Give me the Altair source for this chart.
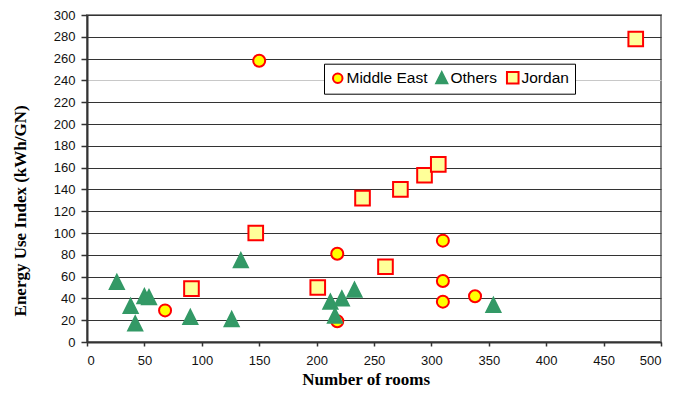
import altair as alt
import pandas as pd

series_names = ["Middle East", "Others", "Jordan"]

me_x = [150, 68, 218, 218, 310, 310, 310, 338]
me_y = [258, 29, 81, 19, 93, 56, 37, 42]

ot_x = [26, 38, 42, 50, 54, 90, 126, 134, 212, 216, 222, 233, 354]
ot_y = [55, 33, 17, 42, 41, 23, 21, 75, 37, 24, 40, 48, 34]

jo_x = [478, 147, 91, 201, 260, 240, 273, 294, 306]
jo_y = [278, 100, 49, 50, 69, 132, 140, 153, 163]

x_ticks = list(range(0, 501, 50))
y_ticks = list(range(0, 301, 20))

rows = []
for name, xs, ys in zip(series_names, [me_x, ot_x, jo_x], [me_y, ot_y, jo_y]):
    for a, b in zip(xs, ys):
        rows.append({"series": name, "rooms": a, "eui": b})
df = pd.DataFrame(rows)

leg = alt.Legend(
    orient="none", legendX=237, legendY=48.7, direction="horizontal", title=None,
    strokeColor="black", fillColor="white", padding=6,
    labelFont="Liberation Sans", labelFontSize=15.5, labelColor="black",
    symbolSize=90, symbolStrokeWidth=2, labelOffset=1, columnPadding=4,
)

dom = series_names
shapes = ["circle", "M0,-1.17L-1.17,1.17L1.17,1.17Z", "M-1.22,-1.22L1.22,-1.22L1.22,1.22L-1.22,1.22Z"]

chart = alt.Chart(df).mark_point(filled=True, strokeWidth=2, opacity=1, size=144).encode(
    x=alt.X("rooms:Q", scale=alt.Scale(domain=[0, 500], nice=False),
            axis=alt.Axis(values=x_ticks, title="Number of rooms", grid=False,
                          tickSize=4, labelPadding=8,
                          titleX=278.7, titleY=42, titleAlign="center",
                          titleBaseline="alphabetic")),
    y=alt.Y("eui:Q", scale=alt.Scale(domain=[0, 300], nice=False),
            axis=alt.Axis(values=y_ticks, title="Energy Use Index (kWh/GN)",
                          grid=True, tickSize=6, labelPadding=6,
                          gridColor=alt.condition("datum.value == 240", alt.value("#c8c8c8"), alt.value("#333333")),
                          titleX=-62, titleY=195.4, titleAngle=-90, titleAlign="center",
                          titleBaseline="alphabetic")),
    shape=alt.Shape("series:N", scale=alt.Scale(domain=dom, range=shapes), legend=leg),
    fill=alt.Fill("series:N", scale=alt.Scale(domain=dom, range=["#FFFF00", "#339966", "#FFFF99"]), legend=leg),
    stroke=alt.Stroke("series:N", scale=alt.Scale(domain=dom, range=["#FF0000", "#339966", "#FF0000"]), legend=leg),
).properties(
    width=574, height=327,
    autosize=alt.AutoSizeParams(type="none"),
    padding={"left": 79, "top": 7, "right": 20, "bottom": 52},
).configure_view(
    stroke="#888888", strokeWidth=2
).configure_axis(
    domainColor="#333333", domainWidth=2, tickColor="#333333", tickWidth=1.5,
    labelFont="Liberation Sans", labelFontSize=13, labelColor="#111111",
    titleFont="Liberation Serif", titleFontSize=17, titleFontWeight="bold", titleColor="black",
    gridWidth=1,
)

chart.save("out.html", embed_options={"renderer": "svg", "actions": False})
